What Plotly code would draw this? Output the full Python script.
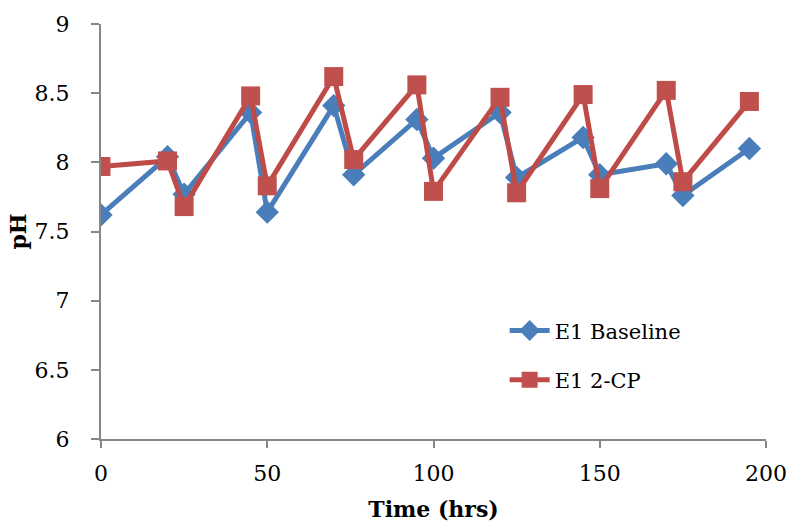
import plotly.graph_objects as go

time_hrs = [0, 20, 25, 45, 50, 70, 76, 95, 100, 120, 125, 145, 150, 170, 175, 195]
baseline_ph = [7.62, 8.04, 7.77, 8.36, 7.64, 8.41, 7.91, 8.31, 8.03, 8.36, 7.89, 8.18, 7.91, 7.99, 7.76, 8.10]
cp_ph = [7.97, 8.01, 7.68, 8.48, 7.83, 8.62, 8.02, 8.56, 7.79, 8.47, 7.78, 8.49, 7.81, 8.52, 7.86, 8.44]

x_ticks = [0, 50, 100, 150, 200]
y_ticks = [6, 6.5, 7, 7.5, 8, 8.5, 9]
y_tick_text = ["6", "6.5", "7", "7.5", "8", "8.5", "9"]

font_family = "DejaVu Serif"
axis_color = "#868686"

fig = go.Figure()
fig.add_trace(go.Scatter(
    x=time_hrs, y=baseline_ph, name="E1 Baseline", mode="lines+markers",
    legendgroup="a",
    line=dict(color="#4A7EBB", width=5),
    marker=dict(symbol="diamond", size=18, color="#4A7EBB"),
))
fig.add_trace(go.Scatter(
    x=time_hrs, y=cp_ph, name="E1 2-CP", mode="lines+markers",
    legendgroup="b",
    line=dict(color="#BE4B48", width=5),
    marker=dict(symbol="square", size=19, color="#C0504D"),
))

fig.update_layout(
    width=792, height=527,
    margin=dict(l=101, r=26, t=24, b=88, autoexpand=False),
    paper_bgcolor="white", plot_bgcolor="white",
    font=dict(family=font_family, size=22, color="black"),
    showlegend=True,
    legend=dict(x=0.607, y=0.31, xanchor="left", yanchor="top",
                font=dict(size=21, family=font_family, color="black"),
                bgcolor="rgba(0,0,0,0)", itemwidth=40, tracegroupgap=19),
)
fig.update_xaxes(
    range=[0, 200], tickvals=x_ticks,
    showline=True, linecolor=axis_color, linewidth=2,
    ticks="outside", ticklen=7, tickcolor=axis_color, tickwidth=2,
    ticklabelstandoff=7, automargin=False,
    showgrid=False, zeroline=False,
    tickfont=dict(size=22, family=font_family),
    title=dict(text="<b>Time (hrs)</b>", font=dict(size=22, family=font_family), standoff=16),
)
fig.update_yaxes(
    range=[6, 9], tickvals=y_ticks, ticktext=y_tick_text,
    showline=True, linecolor=axis_color, linewidth=2,
    ticks="outside", ticklen=8, tickcolor=axis_color, tickwidth=2,
    ticklabelstandoff=17, automargin=False,
    showgrid=False, zeroline=False,
    tickfont=dict(size=22, family=font_family),
    title=dict(text="<b>pH</b>", font=dict(size=22, family=font_family), standoff=2),
)

fig.write_html("out.html")
